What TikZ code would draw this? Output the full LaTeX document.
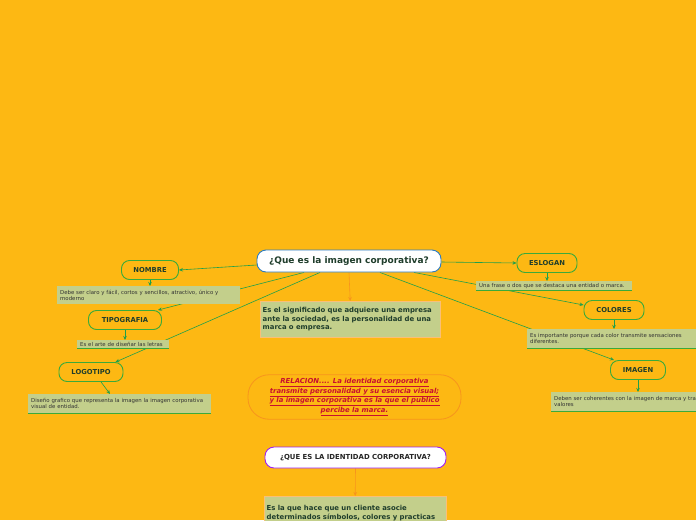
\documentclass[tikz,border=0pt]{standalone}
\usepackage{fontspec}
\setmainfont{DejaVu Sans}
\usetikzlibrary{arrows.meta,backgrounds}
\definecolor{fondo}{HTML}{FDB813}
\definecolor{nota}{HTML}{C3CF8B}
\definecolor{verde}{HTML}{1FA04A}
\definecolor{borde}{HTML}{3BAA3A}
\definecolor{azul}{HTML}{2C7BC0}
\definecolor{morado}{HTML}{A020F0}
\definecolor{naranja}{HTML}{F7941D}
\definecolor{rojo}{HTML}{C8102E}
\definecolor{tinta}{HTML}{1F3D2B}
\tikzset{
  tema/.style={draw=borde, line width=0.9pt, fill=fondo, rounded corners=8pt,
    minimum height=19pt, font=\bfseries\fontsize{6.8}{7.5}\selectfont, text=tinta},
  nota/.style={fill=nota, anchor=north west, align=left, inner xsep=3pt, inner ysep=2pt,
    font=\fontsize{5.4}{6.4}\selectfont, text=black!80},
  notagrande/.style={nota, draw=naranja!60, text=tinta, inner xsep=2.5pt,
    font=\bfseries\fontsize{6.9}{8.2}\selectfont},
  rama/.style={draw=verde, line width=0.6pt, -{Stealth[length=4pt,width=3.5pt]}},
  flecha/.style={draw=naranja, line width=0.6pt, -{Stealth[length=4pt,width=3.5pt]}},
  raya/.style={draw=borde, line width=1.5pt},
}
\begin{document}
\begin{tikzpicture}[x=1pt,y=-1pt]
  \useasboundingbox (0,0) rectangle (696,520);

  \node[draw=azul, fill=white, rounded corners=9pt, line width=0.9pt, minimum width=184pt,
    minimum height=22pt, font=\bfseries\fontsize{9}{10}\selectfont, text=tinta]
    (pregunta) at (349,261) {¿Que es la imagen corporativa?};
  \node[notagrande, text width=175pt, minimum height=36pt] (def) at (260,301)
    {Es el significado que adquiere una empresa\\ante la sociedad, es la personalidad de una\\marca o empresa.};

  \foreach \n/\x/\y/\w/\lab in {nombre/150/270/57/NOMBRE, tipo/125/320/73/TIPOGRAFIA,
      logo/91/372/64/LOGOTIPO, eslogan/547/263/60/ESLOGAN, colores/614/310/60/COLORES,
      imagen/638/370/55/IMAGEN}
    \node[tema, minimum width=\w pt] (\n) at (\x,\y) {\lab};

  \node[nota, text width=177pt, minimum height=18pt] (nnombre) at (57,286)
    {Debe ser claro y fácil, cortos y sencillos, atractivo, único y\\moderno};
  \node[nota, text width=86pt] (ntipo) at (77,340) {Es el arte de diseñar las letras};
  \node[nota, text width=177pt, minimum height=19pt] (nlogo) at (28,394)
    {Diseño grafico que representa la imagen la imagen corporativa\\visual de entidad.};
  \node[nota, text width=150pt] (neslogan) at (476,281)
    {Una frase o dos que se destaca una entidad o marca.};
  \node[nota, text width=177pt, minimum height=19pt] (ncolores) at (527,329)
    {Es importante porque cada color transmite sensaciones\\diferentes.};
  \node[nota, text width=177pt, minimum height=19pt] (nimagen) at (551,392)
    {Deben ser coherentes con la imagen de marca y transmitir\\valores};
  \foreach \n in {ntipo, nlogo, neslogan, ncolores, nimagen}
    \draw[raya] (\n.south west) -- (\n.south east);

  \node[draw=naranja, line width=0.8pt, rounded corners=21pt, minimum width=213pt,
    minimum height=44pt, align=center, text=rojo,
    font=\bfseries\itshape\fontsize{6.9}{7.6}\selectfont] (relacion) at (354.5,397)
    {\underline{RELACION.... La identidad corporativa}\\
     \underline{transmite personalidad y su esencia visual;}\\
     \underline{y la imagen corporativa es la que el publico}\\
     \underline{percibe la marca.}};

  \node[draw=morado, fill=white, rounded corners=9pt, line width=0.9pt, minimum width=181pt,
    minimum height=21pt, font=\bfseries\fontsize{6.9}{8}\selectfont, text=black!85]
    (identidad) at (355.5,457.5) {¿QUE ES LA IDENTIDAD CORPORATIVA?};
  \node[notagrande, text width=177pt, minimum height=34pt] (def2) at (264,496)
    {Es la que hace que un cliente asocie\\determinados símbolos, colores y practicas};

  \begin{scope}[on background layer]
    \fill[fondo] (0,0) rectangle (696,520);
    \draw[rama] ([yshift=-4pt]pregunta.west) -- (nombre.east);
    \draw[rama] ([xshift=-45pt]pregunta.south) -- ([xshift=-4pt]tipo.north east);
    \draw[rama] ([xshift=-29pt]pregunta.south) -- ([xshift=-8pt]logo.north east);
    \draw[rama] ([yshift=-1pt]pregunta.east) -- (eslogan.west);
    \draw[rama] ([xshift=65pt]pregunta.south) -- ([yshift=5pt]colores.west);
    \draw[rama] ([xshift=31pt]pregunta.south) -- ([xshift=4pt]imagen.north west);
    \foreach \n/\m in {nombre/nnombre, tipo/ntipo, eslogan/neslogan, colores/ncolores, imagen/nimagen}
      \draw[rama] (\n.south) -- (\n.south |- \m.north);
    \draw[rama] ([xshift=10pt]logo.south) -- ([xshift=19pt]logo.south |- nlogo.north);
    \draw[flecha] (pregunta.south) -- (def.north);
    \draw[flecha] (identidad.south) -- (def2.north);
  \end{scope}
\end{tikzpicture}
\end{document}
